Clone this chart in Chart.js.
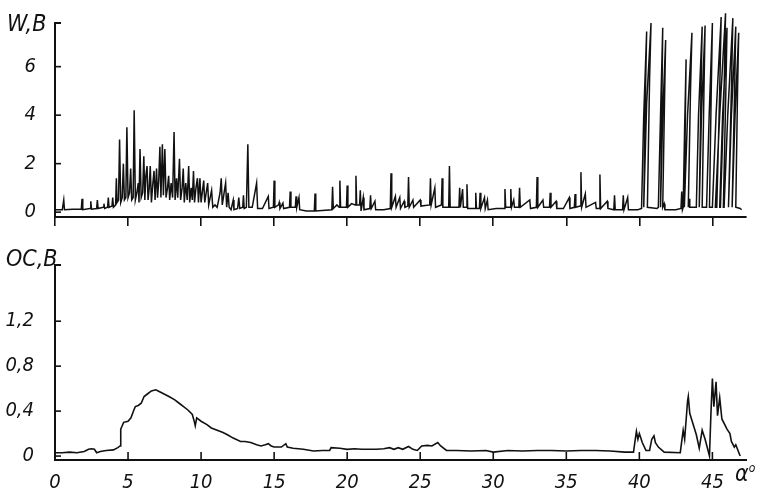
<!DOCTYPE html>
<html><head><meta charset="utf-8">
<script src="https://cdn.jsdelivr.net/npm/chart.js@4.4.0/dist/chart.umd.min.js"></script>
<style>
html,body{margin:0;padding:0;background:#fff;}
#wrap{position:relative;width:765px;height:495px;overflow:hidden;}
canvas{position:absolute;left:0;}
.lab{position:absolute;font-family:'Liberation Sans Narrow','DejaVu Sans Condensed',sans-serif;font-style:italic;color:#111;white-space:nowrap;}
</style></head>
<body><div id="wrap">
<canvas id="cw" width="765" height="240" style="top:0"></canvas>
<canvas id="co" width="765" height="255" style="top:240px"></canvas>
<div class="lab" style="left:7px;top:10px;font-size:23px;">W,В</div>
<div class="lab" style="left:6px;top:245px;font-size:23px;">ОС,В</div>
<div class="lab" style="left:735px;top:460px;font-size:23px;">α<sup style="font-size:12px">o</sup></div>
</div>
<script>
// ---- data ----
const xTickValues = [0, 5, 10, 15, 20, 25, 30, 35, 40, 45];
const xTickLabels = ['0', '5', '10', '15', '20', '25', '30', '35', '40', '45'];
const wTickValues = [0, 2, 4, 6];
const wTickLabels = ['0', '2', '4', '6'];
const ocTickValues = [0, 0.4, 0.8, 1.2];
const ocTickLabels = ['0', '0,4', '0,8', '1,2'];

// W, V  (acoustic emission trace) vs angle
const wX = [0,0.5,0.6,0.65,1.2,1.8,1.85,1.9,2.4,2.45,2.5,2.85,2.9,2.95,3.3,3.35,3.4,3.6,3.65,3.7,3.9,3.95,4.0,
4.15,4.2,4.25,4.35,4.42,4.5,4.6,4.68,4.75,4.85,4.92,5.0,5.1,5.18,5.25,5.35,5.42,5.5,5.6,5.7,5.75,5.82,5.9,6.0,6.08,6.15,
6.22,6.3,6.37,6.45,6.52,6.6,6.7,6.78,6.85,6.95,7.02,7.1,7.18,7.25,7.35,7.42,7.52,7.6,7.7,7.78,7.85,7.95,8.05,8.15,8.22,
8.32,8.4,8.52,8.6,8.7,8.78,8.85,8.95,9.05,9.15,9.22,9.32,9.4,9.48,9.55,9.65,9.75,9.82,9.92,10.0,10.1,10.18,10.25,10.35,
10.45,10.52,10.62,10.72,10.8,10.95,11.1,11.3,11.38,11.45,11.6,11.68,11.75,11.85,11.92,12.05,12.2,12.25,12.5,12.58,12.65,
12.85,12.9,12.95,13.1,13.2,13.27,13.5,13.8,13.87,14.2,14.6,14.65,14.95,15.0,15.05,15.3,15.35,15.4,15.6,15.65,16.05,16.1,
16.15,16.45,16.5,16.55,16.7,16.75,17.2,17.75,17.8,17.85,18.5,18.95,19.0,19.05,19.3,19.45,19.5,19.55,19.95,20.0,20.05,
20.3,20.55,20.6,20.65,20.85,20.9,20.95,21.1,21.15,21.55,21.6,21.65,21.9,21.95,22.5,22.95,23.0,23.05,23.3,23.35,23.6,
23.65,23.9,23.95,24.15,24.2,24.25,24.5,24.55,25.0,25.05,25.65,25.7,25.75,26.0,26.05,26.45,26.5,26.55,26.95,27.0,27.05,
27.65,27.7,27.75,27.9,27.95,28.15,28.2,28.25,28.75,28.8,28.85,29.05,29.1,29.15,29.4,29.45,29.6,29.65,30.2,30.75,30.8,
30.85,31.15,31.2,31.25,31.4,31.45,31.75,31.8,31.85,32.5,32.55,32.95,33.0,33.05,33.4,33.45,33.85,33.9,33.95,34.3,34.35,
34.8,35.2,35.25,35.55,35.6,35.65,35.95,36.0,36.05,36.3,36.35,37.0,37.05,37.25,37.3,37.35,37.8,37.85,38.25,38.3,38.35,
38.85,38.9,38.95,39.2,39.25,39.9,
40.15,40.3,40.5,40.42,40.3,
40.5,40.8,40.7,40.55,41.2,
41.3,41.45,41.6,41.55,41.45,
41.6,41.8,41.72,41.6,41.7,41.75,42.5,42.85,42.9,42.95,
43.0,43.1,43.2,43.15,43.08,
43.3,43.6,43.5,43.35,43.4,43.45,43.85,
43.9,44.05,44.3,44.22,44.1,
44.25,44.5,44.42,44.3,44.55,
44.6,44.78,45.0,44.92,44.8,
45.0,45.25,45.6,45.5,45.3,
45.2,45.5,45.9,45.8,45.55,
45.5,45.7,46.0,45.92,45.75,
45.8,46.05,46.4,46.3,46.1,
46.1,46.3,46.6,46.52,46.35,
46.4,46.55,46.8,46.72,46.6,
46.9,47.0];
const wY = [0.1,0.1,0.5,0.1,0.12,0.12,0.55,0.1,0.15,0.45,0.12,0.15,0.5,0.15,0.2,0.35,0.15,0.2,0.6,0.2,0.25,0.6,0.2,
0.3,1.4,0.4,0.5,3.0,0.4,0.6,2.0,0.5,0.6,3.5,0.6,0.8,1.8,0.5,0.6,4.2,0.5,0.8,1.2,0.4,2.6,0.6,0.8,2.3,0.5,
1.5,1.9,0.5,1.0,1.9,0.4,1.2,1.7,0.5,1.8,0.6,1.3,2.7,0.6,2.8,0.7,2.6,0.6,1.0,1.5,0.5,1.2,0.6,3.3,0.5,
1.4,0.6,2.2,0.5,1.0,1.8,0.4,1.2,0.5,1.9,0.4,1.0,0.5,1.7,0.4,1.0,1.4,0.4,1.4,0.4,0.9,1.3,0.4,0.8,
1.2,0.3,0.6,0.9,0.2,0.3,0.2,0.8,1.4,0.3,0.9,1.2,0.2,0.8,0.2,0.1,0.5,0.1,0.15,0.6,0.15,
0.2,0.7,0.15,0.2,2.8,0.2,0.2,1.2,0.15,0.15,0.65,0.15,0.2,1.3,0.2,0.3,0.4,0.15,0.37,0.15,0.2,0.85,
0.2,0.2,0.65,0.2,0.6,0.1,0.05,0.05,0.77,0.05,0.08,0.1,1.05,0.15,0.3,0.2,1.3,0.2,0.2,1.1,0.2,
0.35,0.3,1.5,0.3,0.3,0.9,0.05,0.6,0.1,0.15,0.7,0.15,0.45,0.1,0.1,0.15,1.6,0.2,0.65,0.2,0.6,
0.15,0.45,0.2,0.25,1.45,0.2,0.5,0.2,0.5,0.25,0.3,1.4,0.3,1.0,0.2,0.3,1.4,0.2,0.2,1.9,0.2,
0.2,1.0,0.2,0.95,0.2,0.2,1.15,0.15,0.15,0.8,0.15,0.15,0.8,0.15,0.6,0.15,0.5,0.1,0.15,0.15,0.95,
0.2,0.2,0.95,0.2,0.5,0.2,0.2,1.0,0.2,0.5,0.15,0.2,1.45,0.2,0.5,0.2,0.2,0.8,0.2,0.45,0.15,
0.15,0.6,0.15,0.2,0.75,0.2,0.25,1.65,0.2,0.75,0.2,0.4,0.15,0.15,1.55,0.15,0.45,0.15,0.1,0.7,0.1,
0.1,0.7,0.1,0.6,0.1,0.1,
0.15,4.0,7.45,5.0,0.2,
4.5,7.8,5.5,0.2,0.15,
0.2,4.0,7.6,5.0,0.2,
4.0,7.1,4.5,0.2,0.35,0.1,0.1,0.15,0.85,0.1,
0.2,3.5,6.3,4.0,0.2,
4.0,7.4,5.0,0.2,0.55,0.2,0.2,
0.2,4.0,7.65,5.0,0.2,
4.0,7.7,5.0,0.2,0.2,
0.2,4.0,7.8,5.0,0.2,
0.2,4.0,8.05,5.0,0.2,
0.2,4.0,8.2,5.0,0.2,
0.2,4.0,7.6,5.0,0.2,
0.2,4.0,8.0,5.0,0.2,
0.2,4.0,7.65,5.0,0.2,
0.2,4.0,7.4,5.0,0.2,
0.15,0.1];

// OC, V vs angle
const ocX = [0,0.5,1.0,1.5,2.0,2.3,2.5,2.7,2.85,3.1,3.5,4.0,4.3,4.45,4.5,4.6,4.7,5.0,5.2,5.4,5.5,5.7,5.9,6.1,6.3,6.6,6.9,
7.2,7.5,7.8,8.2,8.5,8.8,9.1,9.4,9.55,9.6,9.7,10.0,10.4,10.7,11.1,11.5,11.8,12.2,12.7,13.0,13.4,13.8,14.1,14.4,14.6,14.8,
15.0,15.5,15.8,15.9,16.3,17.0,17.7,18.3,18.8,18.9,19.5,20.0,20.5,21.0,21.4,22.0,22.5,22.9,23.2,23.5,23.8,24.2,24.5,24.8,
25.1,25.5,25.8,26.2,26.4,26.8,27.5,28.5,29.5,30.0,31.0,32.0,33.0,34.0,35.0,36.0,37.0,38.0,39.0,39.6,39.7,39.8,39.9,40.0,
40.2,40.45,40.7,40.85,41.0,41.1,41.3,41.7,42.8,43.0,43.1,43.3,43.35,43.45,43.9,44.1,44.3,44.5,44.8,44.9,45.0,45.1,45.25,
45.35,45.5,45.65,46.0,46.2,46.3,46.5,46.6,46.9];
const ocY = [0.03,0.03,0.035,0.03,0.04,0.06,0.065,0.06,0.03,0.04,0.05,0.055,0.075,0.09,0.24,0.27,0.3,0.31,0.34,0.41,0.44,0.45,0.47,0.53,0.55,0.58,0.59,
0.57,0.55,0.53,0.5,0.47,0.44,0.41,0.37,0.3,0.27,0.34,0.31,0.28,0.25,0.23,0.21,0.19,0.16,0.13,0.13,0.12,0.1,0.09,0.1,0.11,0.09,
0.08,0.08,0.11,0.08,0.07,0.06,0.045,0.05,0.05,0.075,0.07,0.06,0.065,0.06,0.06,0.06,0.065,0.075,0.06,0.075,0.06,0.085,0.06,0.05,
0.09,0.095,0.09,0.12,0.09,0.05,0.05,0.045,0.05,0.035,0.05,0.045,0.05,0.05,0.045,0.05,0.05,0.045,0.035,0.035,0.13,0.22,0.15,0.2,
0.12,0.05,0.05,0.15,0.18,0.12,0.08,0.035,0.03,0.23,0.15,0.49,0.53,0.38,0.19,0.07,0.23,0.15,0.0,0.38,0.69,0.44,0.66,
0.36,0.52,0.33,0.24,0.2,0.13,0.08,0.1,0.0];

// ---- rendering ----
const FONT = "'Liberation Sans Narrow','DejaVu Sans Condensed',sans-serif";
const INK = '#111';

const inTicks = {
  id: 'inTicks',
  afterDraw(chart, args, o) {
    const ctx = chart.ctx, ys = chart.scales.y, xs = chart.scales.x;
    ctx.save();
    ctx.strokeStyle = INK; ctx.lineWidth = 1.6;
    ys.ticks.forEach(t => {
      const py = ys.getPixelForValue(t.value);
      ctx.beginPath(); ctx.moveTo(ys.right, py); ctx.lineTo(ys.right + o.yLen, py); ctx.stroke();
    });
    ctx.lineWidth = 2;
    ctx.beginPath(); ctx.moveTo(ys.right, ys.top); ctx.lineTo(ys.right + o.bracket, ys.top); ctx.stroke();
    if (o.xLen) {
      ctx.lineWidth = 1.6;
      xs.ticks.forEach(t => {
        if (t.value === 0) return;
        const px = xs.getPixelForValue(t.value);
        ctx.beginPath(); ctx.moveTo(px, xs.top); ctx.lineTo(px, xs.top - o.xLen); ctx.stroke();
      });
    }
    ctx.restore();
  }
};

function pts(xa, ya) { return xa.map((x, i) => ({x: x, y: ya[i]})); }

function tickFont() { return {family: FONT, size: 20, style: 'italic'}; }

new Chart(document.getElementById('cw'), {
  type: 'line',
  data: {datasets: [{data: pts(wX, wY), borderColor: INK, borderWidth: 1.5, pointRadius: 0, tension: 0, clip: false}]},
  options: {
    responsive: false, animation: false, devicePixelRatio: 1,
    layout: {padding: {top: 23, right: 19, left: 0, bottom: 0}},
    plugins: {legend: {display: false}, tooltip: {enabled: false}, inTicks: {yLen: 6, bracket: 6, xLen: 0}},
    scales: {
      x: {type: 'linear', min: 0, max: 47.3,
        afterBuildTicks: s => { s.ticks = xTickValues.map(v => ({value: v})); },
        afterFit: s => { s.height = 19; },
        ticks: {display: false},
        grid: {display: true, drawOnChartArea: false, drawTicks: true, tickLength: 9, color: INK, lineWidth: 1.6},
        border: {display: true, color: INK, width: 2}},
      y: {type: 'linear', min: -0.2, max: 7.8,
        afterBuildTicks: s => { s.ticks = wTickValues.map(v => ({value: v})); },
        afterFit: s => { s.width = 55; },
        ticks: {color: INK, font: tickFont(), padding: 11, callback: (v, i) => wTickLabels[i]},
        grid: {display: false},
        border: {display: true, color: INK, width: 2}}
    }
  },
  plugins: [inTicks]
});

new Chart(document.getElementById('co'), {
  type: 'line',
  data: {datasets: [{data: pts(ocX, ocY), borderColor: INK, borderWidth: 1.6, pointRadius: 0, tension: 0, clip: false}]},
  options: {
    responsive: false, animation: false, devicePixelRatio: 1,
    layout: {padding: {top: 13, right: 19, left: 0, bottom: 0}},
    plugins: {legend: {display: false}, tooltip: {enabled: false}, inTicks: {yLen: 6, bracket: 6, xLen: 8}},
    scales: {
      x: {type: 'linear', min: 0, max: 47.3,
        afterBuildTicks: s => { s.ticks = xTickValues.map(v => ({value: v})); },
        afterFit: s => { s.height = 35; },
        ticks: {color: INK, font: tickFont(), padding: 3, maxRotation: 0, autoSkip: false, callback: (v, i) => xTickLabels[i]},
        grid: {display: false},
        border: {display: true, color: INK, width: 2}},
      y: {type: 'linear', min: -0.035, max: 1.7,
        afterBuildTicks: s => { s.ticks = ocTickValues.map(v => ({value: v})); },
        afterFit: s => { s.width = 55; },
        ticks: {color: INK, font: tickFont(), padding: 13, callback: (v, i) => ocTickLabels[i]},
        grid: {display: false},
        border: {display: true, color: INK, width: 2}}
    }
  },
  plugins: [inTicks]
});
</script>
</body></html>
